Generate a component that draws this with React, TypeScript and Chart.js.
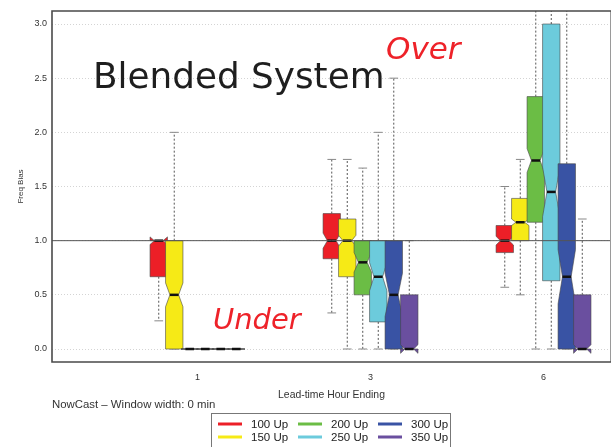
import React, { useEffect, useRef } from "react";
import { Chart, registerables } from "chart.js";

Chart.register(...registerables);

// Lead-time groups along the x axis
const hourLabels = ["1", "3", "6"];

// Threshold series, drawn left to right inside each group
const seriesNames = ["100 Up", "150 Up", "200 Up", "250 Up", "300 Up", "350 Up"];
const seriesColors = ["#ec1f27", "#f6ea16", "#6bbd45", "#6ccbdc", "#3953a4", "#6a4f9f"];

// Box statistics: one row per series, one column per lead time
const whiskerHigh = [
  [1.0, 1.75, 1.5],
  [2.0, 1.75, 1.75],
  [0, 1.67, 3.6],
  [0, 2.0, 3.6],
  [0, 2.5, 3.6],
  [0, 1.0, 1.2],
];
const upperQuartile = [
  [1.0, 1.25, 1.14],
  [1.0, 1.2, 1.39],
  [0, 1.0, 2.33],
  [0, 1.0, 3.0],
  [0, 1.0, 1.71],
  [0, 0.5, 0.5],
];
const medianValue = [
  [1.0, 1.0, 1.0],
  [0.5, 1.0, 1.17],
  [0, 0.8, 1.74],
  [0, 0.667, 1.45],
  [0, 0.5, 0.667],
  [0, 0, 0],
];
const lowerQuartile = [
  [0.667, 0.833, 0.89],
  [0, 0.667, 1.0],
  [0, 0.5, 1.17],
  [0, 0.25, 0.63],
  [0, 0, 0],
  [0, 0, 0],
];
const whiskerLow = [
  [0.26, 0.333, 0.57],
  [0, 0, 0.5],
  [0, 0, 0],
  [0, 0, 0],
  [0, 0, 0],
  [0, 0, 0],
];
// Half-height of the notch around each median
const notchHalf = [
  [0.035, 0.07, 0.04],
  [0.11, 0.05, 0.03],
  [0, 0.09, 0.11],
  [0, 0.13, 0.23],
  [0, 0.2, 0.25],
  [0, 0.04, 0.04],
];

const yTicks = [0, 0.5, 1, 1.5, 2, 2.5, 3];
const referenceValue = 1.0;

// Layout of the boxes within a group, in x-axis units
const BOX_STEP = 0.0896;
const BOX_HALF = 0.0503;

const SANS = "'Liberation Sans', Arial, sans-serif";
const DISPLAY = "'DejaVu Sans', sans-serif";

const boxPlotPlugin = {
  id: "notchedBoxes",
  afterDatasetsDraw(chart: any) {
    const { ctx, chartArea, scales } = chart;
    const xs = scales.x;
    const ys = scales.y;
    ctx.save();
    ctx.beginPath();
    ctx.rect(chartArea.left, chartArea.top, chartArea.right - chartArea.left, chartArea.bottom - chartArea.top);
    ctx.clip();

    for (let g = 0; g < hourLabels.length; g++) {
      for (let s = 0; s < seriesNames.length; s++) {
        const center = g + (s - (seriesNames.length - 1) / 2) * BOX_STEP;
        const x = xs.getPixelForValue(center);
        const xL = xs.getPixelForValue(center - BOX_HALF);
        const xR = xs.getPixelForValue(center + BOX_HALF);
        const xLn = xs.getPixelForValue(center - BOX_HALF / 2);
        const xRn = xs.getPixelForValue(center + BOX_HALF / 2);
        const med = medianValue[s][g];
        const q1 = ys.getPixelForValue(lowerQuartile[s][g]);
        const q3 = ys.getPixelForValue(upperQuartile[s][g]);
        const ym = ys.getPixelForValue(med);
        const nLo = ys.getPixelForValue(med - notchHalf[s][g]);
        const nHi = ys.getPixelForValue(med + notchHalf[s][g]);
        const wHi = ys.getPixelForValue(whiskerHigh[s][g]);
        const wLo = ys.getPixelForValue(whiskerLow[s][g]);

        // whiskers
        ctx.strokeStyle = "#555";
        ctx.lineWidth = 1;
        ctx.setLineDash([2, 2]);
        ctx.beginPath();
        ctx.moveTo(x, q3);
        ctx.lineTo(x, wHi);
        ctx.moveTo(x, q1);
        ctx.lineTo(x, wLo);
        ctx.stroke();
        ctx.setLineDash([]);

        // staples
        ctx.strokeStyle = "#888";
        ctx.beginPath();
        ctx.moveTo(xLn, wHi);
        ctx.lineTo(xRn, wHi);
        ctx.moveTo(xLn, wLo);
        ctx.lineTo(xRn, wLo);
        ctx.stroke();

        // notched box
        ctx.beginPath();
        ctx.moveTo(xL, q1);
        ctx.lineTo(xL, nLo);
        ctx.lineTo(xLn, ym);
        ctx.lineTo(xL, nHi);
        ctx.lineTo(xL, q3);
        ctx.lineTo(xR, q3);
        ctx.lineTo(xR, nHi);
        ctx.lineTo(xRn, ym);
        ctx.lineTo(xR, nLo);
        ctx.lineTo(xR, q1);
        ctx.closePath();
        ctx.fillStyle = seriesColors[s];
        ctx.fill();
        ctx.strokeStyle = "rgba(70,70,70,0.75)";
        ctx.lineWidth = 0.8;
        ctx.stroke();

        // median
        ctx.strokeStyle = "#111";
        ctx.lineWidth = 2.5;
        ctx.beginPath();
        ctx.moveTo(xLn, ym);
        ctx.lineTo(xRn, ym);
        ctx.stroke();
      }
    }

    // reference line at bias = 1
    const yr = ys.getPixelForValue(referenceValue);
    ctx.strokeStyle = "#555";
    ctx.lineWidth = 1;
    ctx.beginPath();
    ctx.moveTo(chartArea.left, yr);
    ctx.lineTo(chartArea.right, yr);
    ctx.stroke();
    ctx.restore();

    // plot frame
    ctx.save();
    ctx.strokeStyle = "#9a9a9a";
    ctx.lineWidth = 1;
    ctx.beginPath();
    ctx.moveTo(chartArea.right - 0.5, chartArea.top);
    ctx.lineTo(chartArea.right - 0.5, chartArea.bottom);
    ctx.stroke();
    ctx.strokeStyle = "#4a4a4a";
    ctx.lineWidth = 1.6;
    ctx.beginPath();
    ctx.moveTo(chartArea.right, chartArea.top);
    ctx.lineTo(chartArea.left, chartArea.top);
    ctx.lineTo(chartArea.left, chartArea.bottom);
    ctx.lineTo(chartArea.right, chartArea.bottom);
    ctx.stroke();
    ctx.restore();
  },
  afterDraw(chart: any) {
    const { ctx, chartArea } = chart;
    ctx.save();

    // headline annotations
    ctx.textBaseline = "alphabetic";
    ctx.textAlign = "left";
    ctx.fillStyle = "#1e1e1e";
    ctx.font = `35.8px ${DISPLAY}`;
    ctx.fillText("Blended System", 93, 88);
    ctx.fillStyle = "#ee2229";
    ctx.font = `oblique 31px ${DISPLAY}`;
    ctx.fillText("Over", 386, 59);
    ctx.font = `oblique 29px ${DISPLAY}`;
    ctx.fillText("Under", 213, 329);

    // run description
    ctx.fillStyle = "#333";
    ctx.font = `11.4px ${SANS}`;
    ctx.textBaseline = "middle";
    ctx.fillText("NowCast \u2013 Window width: 0 min", chartArea.left, 405);

    // legend
    const boxLeft = 211.5;
    const boxTop = 413.5;
    ctx.strokeStyle = "#777";
    ctx.lineWidth = 1;
    ctx.strokeRect(boxLeft, boxTop, 239, 36);
    const colX = [218, 298, 378];
    const rowY = [424, 437];
    ctx.font = `11.5px ${SANS}`;
    for (let s = 0; s < seriesNames.length; s++) {
      const c = Math.floor(s / 2);
      const r = s % 2;
      ctx.strokeStyle = seriesColors[s];
      ctx.lineWidth = 3;
      ctx.beginPath();
      ctx.moveTo(colX[c], rowY[r]);
      ctx.lineTo(colX[c] + 24, rowY[r]);
      ctx.stroke();
      ctx.fillStyle = "#222";
      ctx.fillText(seriesNames[s], colX[c] + 33, rowY[r] + 0.5);
    }
    ctx.restore();
  },
};

export default function App() {
  const canvasRef = useRef<HTMLCanvasElement | null>(null);

  useEffect(() => {
    if (!canvasRef.current) return;
    const datasets = seriesNames.map((name, s) => ({
      label: name,
      data: hourLabels.map((_, g) => ({
        x: g + (s - (seriesNames.length - 1) / 2) * BOX_STEP,
        y: medianValue[s][g],
      })),
      pointRadius: 0,
      showLine: false,
      borderColor: seriesColors[s],
      backgroundColor: seriesColors[s],
    }));

    const chart = new Chart(canvasRef.current, {
      type: "scatter",
      data: { datasets },
      plugins: [boxPlotPlugin],
      options: {
        animation: false,
        responsive: false,
        maintainAspectRatio: false,
        layout: { padding: { top: 11, right: 2, left: 0, bottom: 0 } },
        plugins: {
          legend: { display: false },
          tooltip: { enabled: false },
        },
        scales: {
          x: {
            type: "linear",
            min: -0.841,
            max: 2.39,
            grid: { display: false, drawTicks: false },
            border: { display: false },
            ticks: {
              stepSize: 1,
              includeBounds: false,
              autoSkip: false,
              maxRotation: 0,
              padding: 10,
              color: "#333",
              font: { family: SANS, size: 9 },
              callback: (v: any) => hourLabels[Number(v)] ?? "",
            },
            title: {
              display: true,
              text: "Lead-time Hour Ending",
              color: "#333",
              font: { family: SANS, size: 10.4 },
              padding: { top: 0, bottom: 46 },
            },
            afterFit: (s: any) => {
              s.height = 85;
            },
          },
          y: {
            min: -0.12,
            max: 3.12,
            afterBuildTicks: (s: any) => {
              s.ticks = yTicks.map((v) => ({ value: v }));
            },
            grid: { color: "#d4d4d4", lineWidth: 1, drawTicks: false },
            border: { display: false, dash: [1, 2] },
            ticks: {
              padding: 5,
              color: "#333",
              font: { family: SANS, size: 9 },
              callback: (v: any) => Number(v).toFixed(1),
            },
            title: {
              display: true,
              text: "Freq Bias",
              color: "#333",
              font: { family: SANS, size: 8 },
              padding: { top: 16, bottom: 0 },
            },
            afterFit: (s: any) => {
              s.width = 52;
            },
          },
        },
      },
    });
    return () => chart.destroy();
  }, []);

  return (
    <div style={{ position: "absolute", left: 0, top: 0, width: 613, height: 447, background: "#fff" }}>
      <canvas ref={canvasRef} width={613} height={447} style={{ display: "block" }} />
    </div>
  );
}
